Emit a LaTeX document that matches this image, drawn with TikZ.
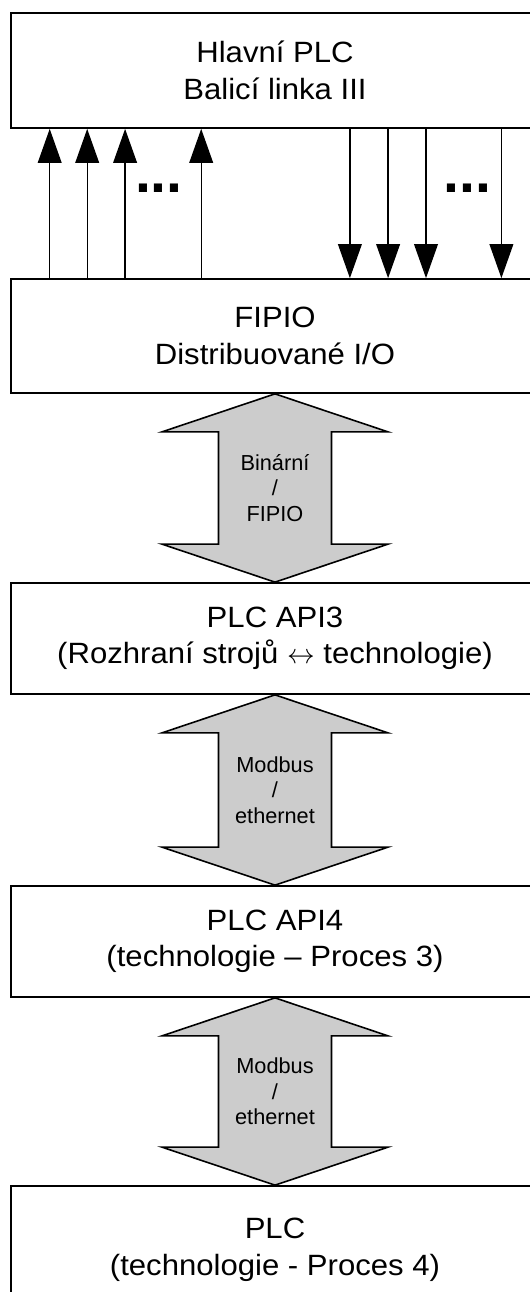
\documentclass[tikz,border=0pt]{standalone}
\usepackage{fontspec}
\newfontfamily\boxfont{Liberation Sans}[FakeStretch=1.06]
\newfontfamily\lblfont{Liberation Sans}
\usetikzlibrary{arrows.meta,calc}

\tikzset{
  box/.style={draw, line width=1.3pt, minimum width=396pt, inner sep=0pt,
    align=center, font=\boxfont\fontsize{22pt}{27.4pt}\selectfont},
  wire/.style={line width=1pt, -{Triangle[width=17.8pt,length=25.5pt]}},
  bus/.style={draw, line width=1.2pt, fill=black!20, line join=miter},
  buslabel/.style={align=center, inner sep=0pt,
    font=\lblfont\fontsize{16.3pt}{19pt}\selectfont},
  more/.style={inner sep=0pt, font=\lblfont\bfseries\fontsize{43pt}{43pt}\selectfont},
}

\begin{document}
\begin{tikzpicture}[x=0.75pt,y=-0.75pt]
\useasboundingbox (0,0) rectangle (530,1292);
\clip (0,0) rectangle (530,1292);

% controller levels
\node[box, minimum height=86.25pt] (main)  at (275,70.5)  {Hlavní PLC\\Balicí linka III};
\node[box, minimum height=85.5pt]  (fipio) at (275,336)   {FIPIO\\Distribuované I/O};
\node[box, minimum height=83.25pt] (api3)  at (275,638.5) {PLC API3\\(Rozhraní strojů $\leftrightarrow$ technologie)};
\node[box, minimum height=83.25pt] (api4)  at (275,941.5) {PLC API4\\(technologie – Proces 3)};
\node[box, minimum height=96pt]    (plc)   at (275,1250)  {PLC\\(technologie - Proces 4)};

% discrete inputs (up) and outputs (down)
\foreach \x [count=\i] in {49.7,87.2,125.1,201.2} {
  \coordinate (in\i) at (\x,0);
  \draw[wire] (in\i |- fipio.north) -- (in\i |- main.south);
}
\foreach \x [count=\i] in {349.9,388.1,426,501.4} {
  \coordinate (out\i) at (\x,0);
  \draw[wire] (out\i |- main.south) -- (out\i |- fipio.north);
}
\node[more] (morein)  at (158.9,188) {...};
\node[more] (moreout) at (467.4,188) {...};

% communication buses between levels
\foreach \a/\b in {fipio/api3, api3/api4, api4/plc} {
  \draw[bus] (\a.south) -- ($(\a.south)+(113,38)$) -- ($(\a.south)+(56.5,38)$)
    -- ($(\b.north)+(56.5,-38)$) -- ($(\b.north)+(113,-38)$) -- (\b.north)
    -- ($(\b.north)+(-113,-38)$) -- ($(\b.north)+(-56.5,-38)$)
    -- ($(\a.south)+(-56.5,38)$) -- ($(\a.south)+(-113,38)$) -- cycle;
}
\node[buslabel] (bus1) at ($(fipio.south)!0.5!(api3.north)$) {Binární\\/\\FIPIO};
\node[buslabel] (bus2) at ($(api3.south)!0.5!(api4.north)$)  {Modbus\\/\\ethernet};
\node[buslabel] (bus3) at ($(api4.south)!0.5!(plc.north)$)   {Modbus\\/\\ethernet};
\end{tikzpicture}
\end{document}
